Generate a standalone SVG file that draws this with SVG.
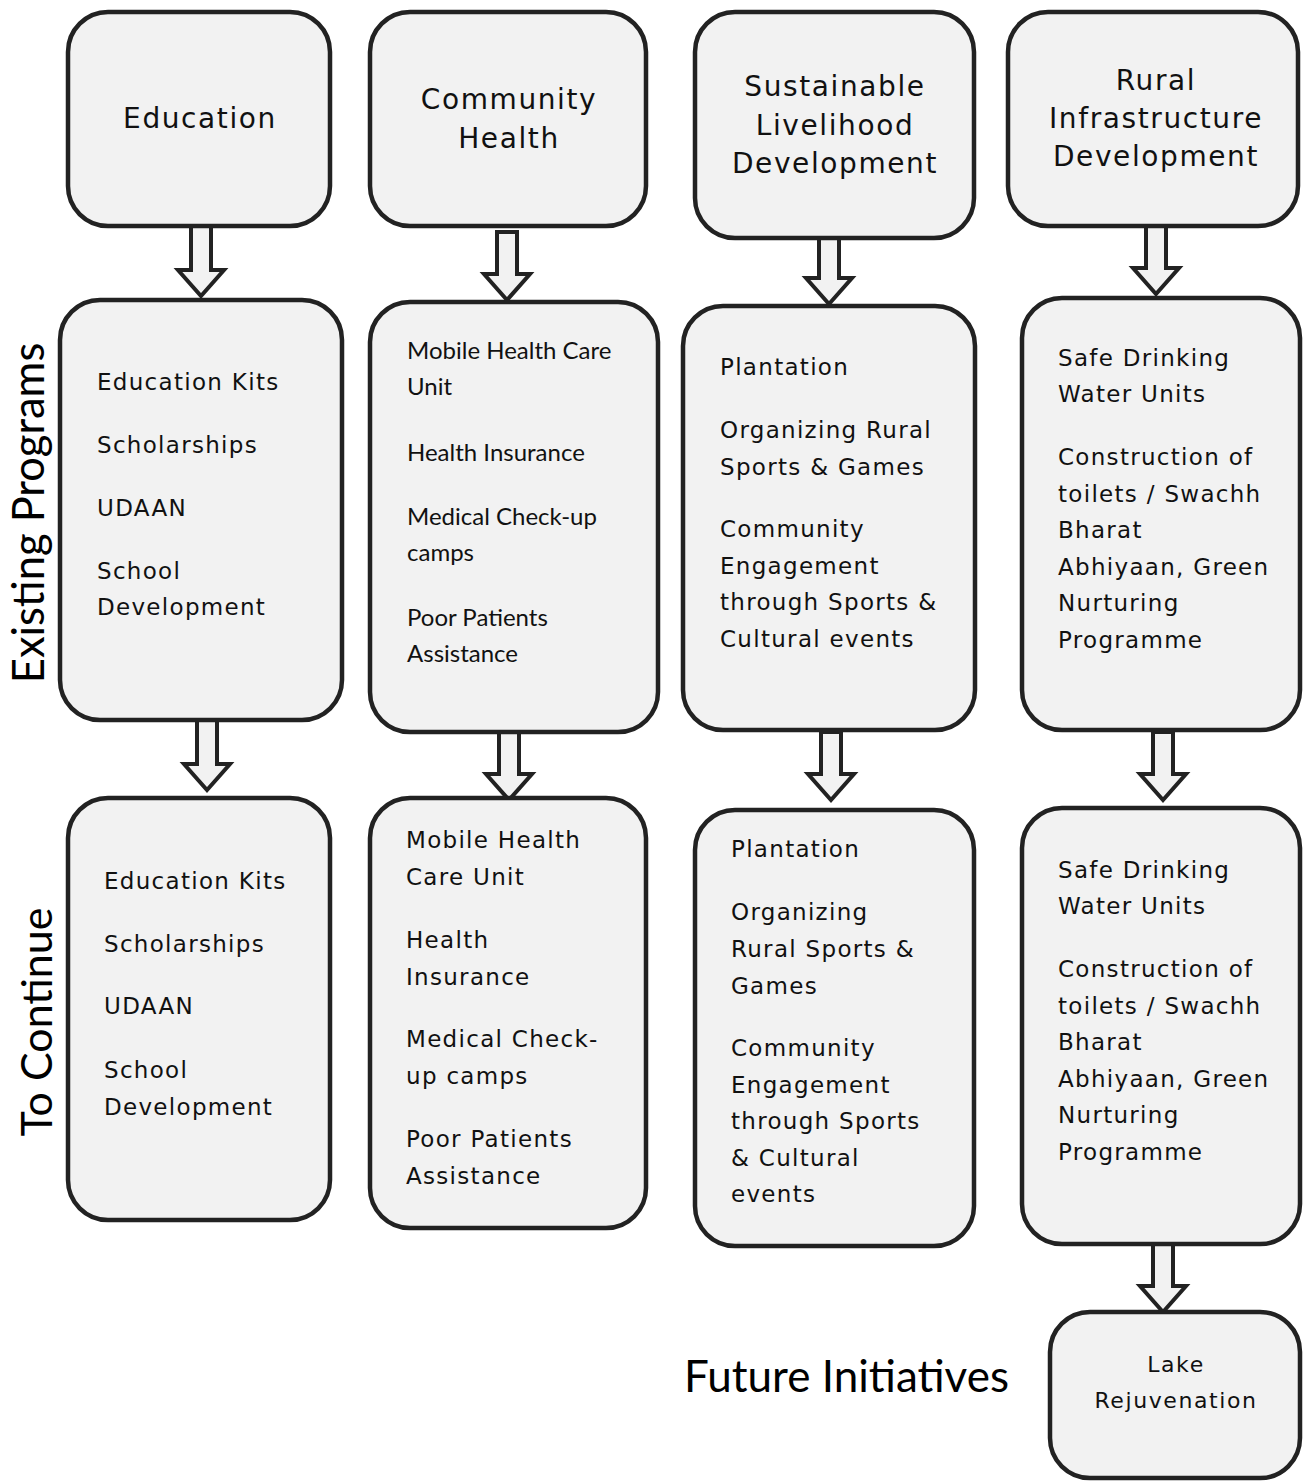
<svg xmlns="http://www.w3.org/2000/svg" width="1313" height="1481" viewBox="0 0 1313 1481">
<style>
.box{fill:#f2f2f2;stroke:#222;stroke-width:4.5}
.arr{fill:#f2f2f2;stroke:#222;stroke-width:4;stroke-linejoin:miter}
.t{font-family:"DejaVu Sans","Noto Sans",sans-serif;font-size:23px;fill:#111;letter-spacing:1.3px}
.h{font-size:28px;text-anchor:middle;letter-spacing:1.6px}
.s{font-size:22px;text-anchor:middle;letter-spacing:1.6px}
.c{font-family:Lato,"Open Sans",sans-serif;font-size:24px;fill:#111;letter-spacing:0}
.lbl{font-family:Lato,"Open Sans",sans-serif;fill:#000}
</style>
<rect width="1313" height="1481" fill="#fff"/>
<g id="connectors">
<path class="arr" d="M191 226H211V270H224L201 296L178 270H191Z"/>
<path class="arr" d="M197 720H217V764H230L207 790L184 764H197Z"/>
<path class="arr" d="M497 232H517V274H530L507 300L484 274H497Z"/>
<path class="arr" d="M499 732H519V774H532L509 800L486 774H499Z"/>
<path class="arr" d="M819 238H839V278H852L829 304L806 278H819Z"/>
<path class="arr" d="M821 732H841V774H854L831 800L808 774H821Z"/>
<path class="arr" d="M1146 226H1166V268H1179L1156 294L1133 268H1146Z"/>
<path class="arr" d="M1153 732H1173V774H1186L1163 800L1140 774H1153Z"/>
<path class="arr" d="M1153 1244H1173V1286H1186L1163 1312L1140 1286H1153Z"/>
</g>
<g id="edu-top"><rect class="box" x="68" y="12" width="262" height="214" rx="40"/>
<text class="t h" x="200" y="128">Education</text></g>
<g id="edu-mid"><rect class="box" x="60" y="300" width="282" height="420" rx="40"/>
<text class="t" x="97" y="390">Education Kits</text>
<text class="t" x="97" y="453">Scholarships</text>
<text class="t" x="97" y="516">UDAAN</text>
<text class="t" x="97" y="579">School</text>
<text class="t" x="97" y="615">Development</text></g>
<g id="edu-bot"><rect class="box" x="68" y="798" width="262" height="422" rx="40"/>
<text class="t" x="104" y="889">Education Kits</text>
<text class="t" x="104" y="952">Scholarships</text>
<text class="t" x="104" y="1014">UDAAN</text>
<text class="t" x="104" y="1078">School</text>
<text class="t" x="104" y="1115">Development</text></g>
<g id="ch-top"><rect class="box" x="370" y="12" width="276" height="214" rx="40"/>
<text class="t h" x="509" y="109">Community</text>
<text class="t h" x="509" y="148">Health</text></g>
<g id="ch-mid"><rect class="box" x="370" y="302" width="288" height="430" rx="40"/>
<text class="c" x="407" y="359">Mobile Health Care</text>
<text class="c" x="407" y="395">Unit</text>
<text class="c" x="407" y="461">Health Insurance</text>
<text class="c" x="407" y="525">Medical Check-up</text>
<text class="c" x="407" y="561">camps</text>
<text class="c" x="407" y="626">Poor Patients</text>
<text class="c" x="407" y="662">Assistance</text></g>
<g id="ch-bot"><rect class="box" x="370" y="798" width="276" height="430" rx="40"/>
<text class="t" x="406" y="848">Mobile Health</text>
<text class="t" x="406" y="885">Care Unit</text>
<text class="t" x="406" y="948">Health</text>
<text class="t" x="406" y="985">Insurance</text>
<text class="t" x="406" y="1047">Medical Check-</text>
<text class="t" x="406" y="1084">up camps</text>
<text class="t" x="406" y="1147">Poor Patients</text>
<text class="t" x="406" y="1184">Assistance</text></g>
<g id="sl-top"><rect class="box" x="695" y="12" width="279" height="226" rx="40"/>
<text class="t h" x="835" y="96">Sustainable</text>
<text class="t h" x="835" y="135">Livelihood</text>
<text class="t h" x="835" y="173">Development</text></g>
<g id="sl-mid"><rect class="box" x="683" y="306" width="292" height="424" rx="40"/>
<text class="t" x="720" y="375">Plantation</text>
<text class="t" x="720" y="438">Organizing Rural</text>
<text class="t" x="720" y="475">Sports &amp; Games</text>
<text class="t" x="720" y="537">Community</text>
<text class="t" x="720" y="574">Engagement</text>
<text class="t" x="720" y="610">through Sports &amp;</text>
<text class="t" x="720" y="647">Cultural events</text></g>
<g id="sl-bot"><rect class="box" x="695" y="810" width="279" height="436" rx="40"/>
<text class="t" x="731" y="857">Plantation</text>
<text class="t" x="731" y="920">Organizing</text>
<text class="t" x="731" y="957">Rural Sports &amp;</text>
<text class="t" x="731" y="994">Games</text>
<text class="t" x="731" y="1056">Community</text>
<text class="t" x="731" y="1093">Engagement</text>
<text class="t" x="731" y="1129">through Sports</text>
<text class="t" x="731" y="1166">&amp; Cultural</text>
<text class="t" x="731" y="1202">events</text></g>
<g id="ri-top"><rect class="box" x="1008" y="12" width="290" height="214" rx="40"/>
<text class="t h" x="1156" y="90">Rural</text>
<text class="t h" x="1156" y="128">Infrastructure</text>
<text class="t h" x="1156" y="166">Development</text></g>
<g id="ri-mid"><rect class="box" x="1022" y="298" width="278" height="432" rx="40"/>
<text class="t" x="1058" y="366">Safe Drinking</text>
<text class="t" x="1058" y="402">Water Units</text>
<text class="t" x="1058" y="465">Construction of</text>
<text class="t" x="1058" y="502">toilets / Swachh</text>
<text class="t" x="1058" y="538">Bharat</text>
<text class="t" x="1058" y="575">Abhiyaan, Green</text>
<text class="t" x="1058" y="611">Nurturing</text>
<text class="t" x="1058" y="648">Programme</text></g>
<g id="ri-bot"><rect class="box" x="1022" y="808" width="278" height="436" rx="40"/>
<text class="t" x="1058" y="878">Safe Drinking</text>
<text class="t" x="1058" y="914">Water Units</text>
<text class="t" x="1058" y="977">Construction of</text>
<text class="t" x="1058" y="1014">toilets / Swachh</text>
<text class="t" x="1058" y="1050">Bharat</text>
<text class="t" x="1058" y="1087">Abhiyaan, Green</text>
<text class="t" x="1058" y="1123">Nurturing</text>
<text class="t" x="1058" y="1160">Programme</text></g>
<g id="lake"><rect class="box" x="1050" y="1312" width="250" height="166" rx="40"/>
<text class="t s" x="1176" y="1372">Lake</text>
<text class="t s" x="1176" y="1408">Rejuvenation</text></g>
<g id="labels">
<text class="lbl" font-size="43.5" x="44" y="513" text-anchor="middle" transform="rotate(-90 44 513)">Existing Programs</text>
<text class="lbl" font-size="43" x="52" y="1022" text-anchor="middle" transform="rotate(-90 52 1022)">To Continue</text>
<text class="lbl" font-size="44" x="684" y="1392">Future Initiatives</text>
</g>
</svg>
